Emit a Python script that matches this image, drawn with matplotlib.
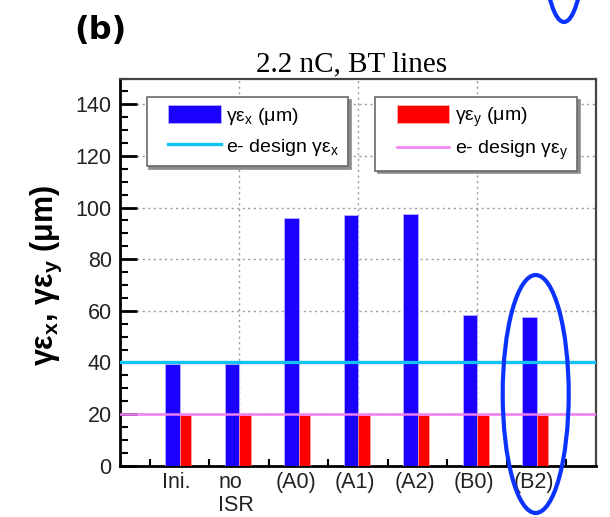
import matplotlib
matplotlib.use("Agg")
import matplotlib.pyplot as plt
from matplotlib.patches import Patch, Ellipse, Rectangle
from matplotlib.lines import Line2D
from matplotlib.legend_handler import HandlerPatch, HandlerLine2D
from matplotlib.ticker import MultipleLocator, FixedLocator, NullFormatter
import numpy as np

# ---- data ----
categories = ["Ini.", "no\nISR", "(A0)", "(A1)", "(A2)", "(B0)", "(B2)"]
emit_x = [39.5, 39.5, 96.0, 97.0, 97.5, 58.3, 57.5]   # gamma*eps_x (um)
emit_y = [19.5, 19.5, 19.5, 19.5, 19.5, 19.5, 19.5]   # gamma*eps_y (um)
design_x = 40.0
design_y = 20.0
title = "2.2 nC, BT lines"

plt.rcParams["font.family"] = ["Liberation Sans", "DejaVu Sans"]
plt.rcParams["mathtext.fontset"] = "custom"
plt.rcParams["mathtext.rm"] = "Liberation Sans"
plt.rcParams["mathtext.sf"] = "Liberation Sans"
plt.rcParams["mathtext.bf"] = "Liberation Sans:bold"
plt.rcParams["mathtext.it"] = "Liberation Sans:italic"

W, H = 610, 517
fig = plt.figure(figsize=(W / 100, H / 100), dpi=100)

x0, x1 = 120, 596
y_top, y_bot = 78.5, 465.7
ax = fig.add_axes([x0 / W, 1 - y_bot / H, (x1 - x0) / W, (y_bot - y_top) / H])

pos = np.arange(1, len(categories) + 1)
blue = "#1a00ff"
red = "#ff0000"
cyan = "#14c3f5"
violet = "#f07ef0"

ax.bar(pos, emit_x, width=-0.24, align="edge", color=blue,
       edgecolor="#b9b0ff", linewidth=0.6, zorder=3)
ax.bar(pos, emit_y, width=0.195, align="edge", color=red,
       edgecolor="#ffb0b0", linewidth=0.4, zorder=3)

ax.axhline(design_x, color=cyan, lw=2.4, zorder=4)
ax.axhline(design_y, color=violet, lw=1.8, zorder=4)

ax.set_xlim(0, 8)
ax.set_ylim(0, 150)

# grid: dotted lines at every other category boundary and every 20 um
ax.xaxis.set_major_locator(FixedLocator([2, 4, 6]))
ax.xaxis.set_major_formatter(NullFormatter())
ax.xaxis.set_minor_locator(FixedLocator(np.arange(0.5, 8, 1.0)))
ax.yaxis.set_major_locator(MultipleLocator(20))
ax.yaxis.set_minor_locator(MultipleLocator(5))
ax.grid(True, which="major", color="#9a9a9a", lw=1.0, linestyle=(0, (1.5, 2.5)), zorder=1)

ax.tick_params(axis="x", which="major", length=0)
ax.tick_params(axis="x", which="minor", direction="in", length=5, width=1.5)
ax.tick_params(axis="y", which="major", direction="in", length=12, width=2, labelsize=15.5,
               pad=6, labelcolor="#222222")
ax.tick_params(axis="y", which="minor", direction="in", length=6, width=1.5)

for xp, lab in zip(pos, categories):
    ax.text(xp - 0.05, -2.6, lab, ha="center", va="top", fontsize=15.5,
            multialignment="left", linespacing=1.1, color="#222222")

for s in ["left", "bottom"]:
    ax.spines[s].set_linewidth(2.0)
    ax.spines[s].set_color("black")
for s in ["top", "right"]:
    ax.spines[s].set_linewidth(1.6)
    ax.spines[s].set_color("#444444")

ax.set_title(title, family="Liberation Serif", fontsize=21, pad=5, x=0.487)

ax.set_ylabel(r"γε$_\mathbf{x}$, γε$_\mathbf{y}$ (μm)", fontsize=22, fontweight="bold")
ax.yaxis.set_label_coords(-0.118, 0.492)


# legend keys sit in the right part of a wider handle box
KEY_OFFSET = 0.2


def shifted_patch(legend, orig_handle, xdescent, ydescent, width, height, fontsize):
    off = KEY_OFFSET * width
    return Rectangle((-xdescent + off, -ydescent - 1), width - off, height + 2)


class ShiftedLine(HandlerLine2D):
    def get_xdata(self, legend, xdescent, ydescent, width, height, fontsize):
        off = KEY_OFFSET * width
        xd = np.array([-xdescent + off, -xdescent + width])
        return xd, xd


handler_map = {Patch: HandlerPatch(patch_func=shifted_patch), Line2D: ShiftedLine()}

leg_kw = dict(fontsize=14, frameon=True, fancybox=False, handlelength=3.35,
              handleheight=0.85, handletextpad=0.3, labelspacing=0.5,
              borderpad=0.45, borderaxespad=0.0, loc="upper left", mode="expand",
              shadow={"color": "0.55", "alpha": 1.0}, handler_map=handler_map)
h1 = [Patch(facecolor=blue, edgecolor="#b9b0ff", lw=0.6),
      Line2D([], [], color=cyan, lw=2.4)]
l1 = [r"γε$_\mathsf{x}$ (μm)", r"e- design γε$_\mathsf{x}$"]
leg1 = ax.legend(h1, l1, bbox_to_anchor=(0.056, 0.952, 0.423, 0.0), **leg_kw)
leg1.get_frame().set_edgecolor("#6a6a6a")
leg1.get_frame().set_linewidth(1.2)
ax.add_artist(leg1)

h2 = [Patch(facecolor=red, edgecolor="#ffb0b0", lw=0.6),
      Line2D([], [], color=violet, lw=1.8)]
l2 = [r"γε$_\mathsf{y}$ (μm)", r"e- design γε$_\mathsf{y}$"]
leg2 = ax.legend(h2, l2, bbox_to_anchor=(0.536, 0.952, 0.424, 0.0), **leg_kw)
leg2.get_frame().set_edgecolor("#6a6a6a")
leg2.get_frame().set_linewidth(1.2)

# panel tag
fig.text(74 / W, 1 - 31 / H, "(b)", fontsize=23, fontweight="bold",
         family="DejaVu Sans", va="center", ha="left")

# highlight ellipses drawn in pixel space
ov = fig.add_axes([0, 0, 1, 1], zorder=10)
ov.set_xlim(0, W)
ov.set_ylim(H, 0)
ov.axis("off")
ov.patch.set_alpha(0)
ov.add_patch(Ellipse((535.7, 394), 66, 238, fill=False, edgecolor="#0a33ff", lw=3.0,
                     clip_on=False))
ov.add_patch(Ellipse((564, -78), 44, 200, fill=False, edgecolor="#0a33ff", lw=3.0,
                     clip_on=False))

fig.savefig("out.png", dpi=100)
